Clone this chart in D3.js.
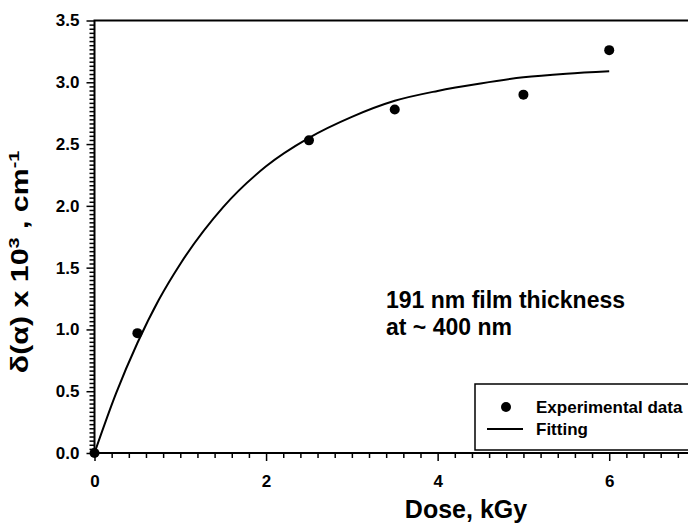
<!DOCTYPE html>
<html>
<head>
<meta charset="utf-8">
<script src="https://cdn.jsdelivr.net/npm/d3@7"></script>
<style>
  body { margin: 0; background: #fff; }
  text { font-family: Arial, "Liberation Sans", sans-serif; font-weight: bold; fill: #000; }
</style>
</head>
<body>
<svg id="chart" width="688" height="531"></svg>
<script>
// Measured absorption change vs. irradiation dose
const doses = [0, 0.5, 2.5, 3.5, 5, 6];
const deltaAlpha = [0, 0.97, 2.53, 2.78, 2.90, 3.26];

// Fitted curve, sampled along the dose axis
const fitDoses = [0, 0.25, 0.5, 0.75, 1, 1.5, 2, 2.5, 3, 3.5, 4, 4.5, 5, 5.5, 6];
const fitValues = [0, 0.48, 0.89, 1.24, 1.53, 1.99, 2.32, 2.55, 2.72, 2.85, 2.93, 2.99, 3.04, 3.07, 3.09];

// Axis ticks
const xMajorTicks = [0, 2, 4, 6];
const yMajorTicks = [0, 0.5, 1.0, 1.5, 2.0, 2.5, 3.0, 3.5];
const xMinorStep = 0.2;
const yMinorStep = 0.5 / 15;

const svg = d3.select("#chart");
const plot = { left: 94.5, right: 695, top: 20.5, bottom: 453 };

const x = d3.scaleLinear().domain([0, 7]).range([plot.left, plot.right]);
const y = d3.scaleLinear().domain([0, 3.5]).range([plot.bottom, plot.top]);

// Minor ticks
const xMinor = d3.range(0, 7 + 1e-9, xMinorStep).filter(v => !xMajorTicks.some(m => Math.abs(m - v) < 1e-6));
const yMinor = d3.range(0, 3.5 + 1e-9, yMinorStep).filter(v => !yMajorTicks.some(m => Math.abs(m - v) < 1e-6));

svg.append("g")
  .attr("transform", `translate(0,${plot.bottom})`)
  .call(d3.axisBottom(x).tickValues(xMinor).tickSize(5).tickFormat(""))
  .call(g => g.select(".domain").remove())
  .selectAll("line").attr("stroke", "#000").attr("stroke-width", 1.5);

svg.append("g")
  .attr("transform", `translate(${plot.left},0)`)
  .call(d3.axisLeft(y).tickValues(yMinor).tickSize(5).tickFormat(""))
  .call(g => g.select(".domain").remove())
  .selectAll("line").attr("stroke", "#000").attr("stroke-width", 1.5);

// Major ticks with labels
const xAxis = svg.append("g")
  .attr("transform", `translate(0,${plot.bottom})`)
  .call(d3.axisBottom(x).tickValues(xMajorTicks).tickSize(8).tickPadding(14).tickFormat(d3.format("d")));
xAxis.select(".domain").remove();
xAxis.selectAll("line").attr("stroke", "#000").attr("stroke-width", 1.5);
xAxis.selectAll("text").attr("font-size", 17).attr("fill", "#000")
  .style("font-family", "Arial, 'Liberation Sans', sans-serif").style("font-weight", "bold");

const yAxis = svg.append("g")
  .attr("transform", `translate(${plot.left},0)`)
  .call(d3.axisLeft(y).tickValues(yMajorTicks).tickSize(8).tickPadding(7).tickFormat(d3.format(".1f")));
yAxis.select(".domain").remove();
yAxis.selectAll("line").attr("stroke", "#000").attr("stroke-width", 1.5);
yAxis.selectAll("text").attr("font-size", 17).attr("fill", "#000")
  .style("font-family", "Arial, 'Liberation Sans', sans-serif").style("font-weight", "bold");

// Frame (right side runs past the canvas edge)
svg.append("rect")
  .attr("x", plot.left).attr("y", plot.top)
  .attr("width", plot.right - plot.left).attr("height", plot.bottom - plot.top)
  .attr("fill", "none").attr("stroke", "#000").attr("stroke-width", 2);

// Fitting curve
const line = d3.line().x((d, i) => x(fitDoses[i])).y(d => y(d)).curve(d3.curveMonotoneX);
svg.append("path")
  .datum(fitValues)
  .attr("d", line)
  .attr("fill", "none").attr("stroke", "#000").attr("stroke-width", 2);

// Experimental points
svg.append("g").selectAll("circle")
  .data(deltaAlpha)
  .join("circle")
  .attr("cx", (d, i) => x(doses[i]))
  .attr("cy", d => y(d))
  .attr("r", 5)
  .attr("fill", "#000");

// Annotation
svg.append("text").attr("x", 386).attr("y", 308).attr("font-size", 23).text("191 nm film thickness");
svg.append("text").attr("x", 386).attr("y", 335).attr("font-size", 23).text("at ~ 400 nm");

// Legend
const legend = svg.append("g");
legend.append("rect")
  .attr("x", 475).attr("y", 384).attr("width", 240).attr("height", 66)
  .attr("fill", "#fff").attr("stroke", "#000").attr("stroke-width", 1.5);
legend.append("circle").attr("cx", 506).attr("cy", 407).attr("r", 5).attr("fill", "#000");
legend.append("line").attr("x1", 487).attr("x2", 523).attr("y1", 429).attr("y2", 429)
  .attr("stroke", "#000").attr("stroke-width", 2);
legend.append("text").attr("x", 536).attr("y", 413).attr("font-size", 17).text("Experimental data");
legend.append("text").attr("x", 536).attr("y", 435).attr("font-size", 17).text("Fitting");

// Axis titles
svg.append("text")
  .attr("x", 466).attr("y", 518).attr("text-anchor", "middle").attr("font-size", 25)
  .text("Dose, kGy");

const yTitle = svg.append("text")
  .attr("transform", "translate(28,262) rotate(-90) scale(1.32,1)")
  .attr("text-anchor", "middle").attr("font-size", 23);
yTitle.append("tspan").text("δ(α) x 10");
yTitle.append("tspan").attr("font-size", 15).attr("dy", -9).text("3");
yTitle.append("tspan").attr("dy", 9).text(" , cm");
yTitle.append("tspan").attr("font-size", 15).attr("dy", -9).text("-1");
</script>
</body>
</html>
